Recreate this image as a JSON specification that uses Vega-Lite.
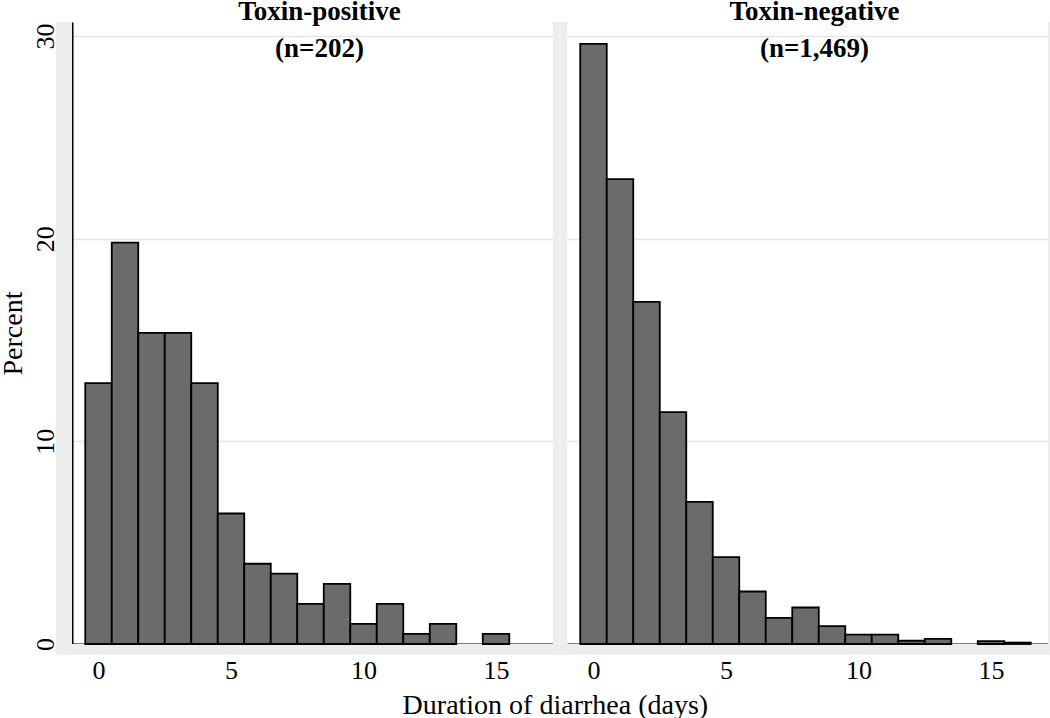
{
  "$schema": "https://vega.github.io/schema/vega-lite/v6.json",
  "background": "white",
  "padding": {"left": -1, "top": -2, "right": 0, "bottom": 0},
  "spacing": 0,
  "config": {
    "font": "Liberation Serif",
    "view": {"stroke": null},
    "axis": {
      "labelFont": "Liberation Serif",
      "titleFont": "Liberation Serif",
      "labelColor": "black",
      "titleColor": "black",
      "labelFontSize": 26,
      "titleFontSize": 28,
      "titleFontWeight": "normal",
      "domainColor": "black",
      "domainWidth": 2,
      "tickColor": "black",
      "tickWidth": 2,
      "gridColor": "#e4e4ea",
      "gridWidth": 1.5
    }
  },
  "datasets": {
    "pos": [
      {"start": -0.5, "end": 0.5, "pct": 12.87},
      {"start": 0.5, "end": 1.5, "pct": 19.80},
      {"start": 1.5, "end": 2.5, "pct": 15.35},
      {"start": 2.5, "end": 3.5, "pct": 15.35},
      {"start": 3.5, "end": 4.5, "pct": 12.87},
      {"start": 4.5, "end": 5.5, "pct": 6.44},
      {"start": 5.5, "end": 6.5, "pct": 3.96},
      {"start": 6.5, "end": 7.5, "pct": 3.47},
      {"start": 7.5, "end": 8.5, "pct": 1.98},
      {"start": 8.5, "end": 9.5, "pct": 2.97},
      {"start": 9.5, "end": 10.5, "pct": 0.99},
      {"start": 10.5, "end": 11.5, "pct": 1.98},
      {"start": 11.5, "end": 12.5, "pct": 0.50},
      {"start": 12.5, "end": 13.5, "pct": 0.99},
      {"start": 14.5, "end": 15.5, "pct": 0.50}
    ],
    "neg": [
      {"start": -0.5, "end": 0.5, "pct": 29.61},
      {"start": 0.5, "end": 1.5, "pct": 22.94},
      {"start": 1.5, "end": 2.5, "pct": 16.88},
      {"start": 2.5, "end": 3.5, "pct": 11.44},
      {"start": 3.5, "end": 4.5, "pct": 7.01},
      {"start": 4.5, "end": 5.5, "pct": 4.29},
      {"start": 5.5, "end": 6.5, "pct": 2.59},
      {"start": 6.5, "end": 7.5, "pct": 1.29},
      {"start": 7.5, "end": 8.5, "pct": 1.80},
      {"start": 8.5, "end": 9.5, "pct": 0.88},
      {"start": 9.5, "end": 10.5, "pct": 0.46},
      {"start": 10.5, "end": 11.5, "pct": 0.46},
      {"start": 11.5, "end": 12.5, "pct": 0.16},
      {"start": 12.5, "end": 13.5, "pct": 0.25},
      {"start": 14.5, "end": 15.5, "pct": 0.14},
      {"start": 15.5, "end": 16.5, "pct": 0.07}
    ]
  },
  "title": {
    "text": "Duration of diarrhea (days)",
    "orient": "bottom",
    "anchor": "middle",
    "font": "Liberation Serif",
    "fontSize": 28,
    "fontWeight": "normal",
    "color": "black",
    "offset": 9,
    "dx": 30
  },
  "hconcat": [
    {
      "width": 481,
      "height": 622,
      "title": {
        "text": ["Toxin-positive", "(n=202)"],
        "font": "Liberation Serif",
        "fontSize": 27,
        "fontWeight": "bold",
        "lineHeight": 37,
        "baseline": "bottom",
        "offset": -68,
        "dx": 7,
        "anchor": "middle",
        "color": "black"
      },
      "layer": [
        {
          "data": {"values": [{}]},
          "mark": {"type": "rect", "fill": "#ededed", "stroke": null},
          "encoding": {
            "x": {"datum": -1.6, "type": "quantitative", "scale": {"domain": [-1, 17.15], "nice": false, "zero": false}},
            "x2": {"datum": -1},
            "y": {"datum": -0.53, "type": "quantitative", "scale": {"domain": [0, 30.69], "nice": false, "zero": false}},
            "y2": {"datum": 30.69}
          }
        },
        {
          "data": {"values": [{}]},
          "mark": {"type": "rect", "fill": "#ededed", "stroke": null},
          "encoding": {
            "x": {"datum": -1.6, "type": "quantitative", "scale": {"domain": [-1, 17.15], "nice": false, "zero": false}},
            "x2": {"datum": 17.403},
            "y": {"datum": -0.53, "type": "quantitative", "scale": {"domain": [0, 30.69], "nice": false, "zero": false}},
            "y2": {"datum": 0}
          }
        },
        {
          "data": {"values": [{}]},
          "mark": {"type": "rect", "fill": "#ededed", "stroke": null},
          "encoding": {
            "x": {"datum": 17.15, "type": "quantitative", "scale": {"domain": [-1, 17.15], "nice": false, "zero": false}},
            "x2": {"datum": 17.403},
            "y": {"datum": -0.53, "type": "quantitative", "scale": {"domain": [0, 30.69], "nice": false, "zero": false}},
            "y2": {"datum": 30.69}
          }
        },
        {
          "data": {"name": "pos"},
          "mark": {"type": "rect", "fill": "#6b6c6a", "stroke": "black", "strokeWidth": 1.8},
          "encoding": {
            "x": {
              "field": "start", "type": "quantitative",
              "scale": {"domain": [-1, 17.15], "nice": false, "zero": false},
              "axis": {"values": [0, 5, 10, 15], "title": null, "tickSize": 9, "labelPadding": 4, "labelAngle": 0, "grid": false, "labelFlush": false}
            },
            "x2": {"field": "end"},
            "y": {
              "field": "pct", "type": "quantitative",
              "scale": {"domain": [0, 30.69], "nice": false, "zero": false},
              "axis": {"values": [0, 10, 20, 30], "title": "Percent", "labelAngle": -90, "labelAlign": "center", "labelBaseline": "alphabetic", "labelPadding": 8, "tickSize": 11, "grid": true, "titlePadding": 5}
            },
            "y2": {"datum": 0}
          }
        }
      ]
    },
    {
      "width": 481,
      "height": 622,
      "title": {
        "text": ["Toxin-negative", "(n=1,469)"],
        "font": "Liberation Serif",
        "fontSize": 27,
        "fontWeight": "bold",
        "lineHeight": 37,
        "baseline": "bottom",
        "offset": -68,
        "dx": 7,
        "anchor": "middle",
        "color": "black"
      },
      "layer": [
        {
          "data": {"values": [{}]},
          "mark": {"type": "rect", "fill": "#ededed", "stroke": null},
          "encoding": {
            "x": {"datum": -1.2528, "type": "quantitative", "scale": {"domain": [-1, 17.15], "nice": false, "zero": false}},
            "x2": {"datum": -1},
            "y": {"datum": -0.53, "type": "quantitative", "scale": {"domain": [0, 30.69], "nice": false, "zero": false}},
            "y2": {"datum": 30.69}
          }
        },
        {
          "data": {"values": [{}]},
          "mark": {"type": "rect", "fill": "#ededed", "stroke": null},
          "encoding": {
            "x": {"datum": -1.2528, "type": "quantitative", "scale": {"domain": [-1, 17.15], "nice": false, "zero": false}},
            "x2": {"datum": 17.29},
            "y": {"datum": -0.53, "type": "quantitative", "scale": {"domain": [0, 30.69], "nice": false, "zero": false}},
            "y2": {"datum": 0}
          }
        },
        {
          "data": {"values": [{}]},
          "mark": {"type": "rect", "fill": "#ededed", "stroke": null},
          "encoding": {
            "x": {"datum": 17.15, "type": "quantitative", "scale": {"domain": [-1, 17.15], "nice": false, "zero": false}},
            "x2": {"datum": 17.29},
            "y": {"datum": -0.53, "type": "quantitative", "scale": {"domain": [0, 30.69], "nice": false, "zero": false}},
            "y2": {"datum": 30.69}
          }
        },
        {
          "data": {"name": "neg"},
          "mark": {"type": "rect", "fill": "#6b6c6a", "stroke": "black", "strokeWidth": 1.8},
          "encoding": {
            "x": {
              "field": "start", "type": "quantitative",
              "scale": {"domain": [-1, 17.15], "nice": false, "zero": false},
              "axis": {"values": [0, 5, 10, 15], "title": null, "tickSize": 9, "labelPadding": 4, "labelAngle": 0, "grid": false, "labelFlush": false}
            },
            "x2": {"field": "end"},
            "y": {
              "field": "pct", "type": "quantitative",
              "scale": {"domain": [0, 30.69], "nice": false, "zero": false},
              "axis": {"values": [10, 20, 30], "title": null, "labels": false, "ticks": false, "domain": false, "grid": true}
            },
            "y2": {"datum": 0}
          }
        }
      ]
    }
  ]
}
